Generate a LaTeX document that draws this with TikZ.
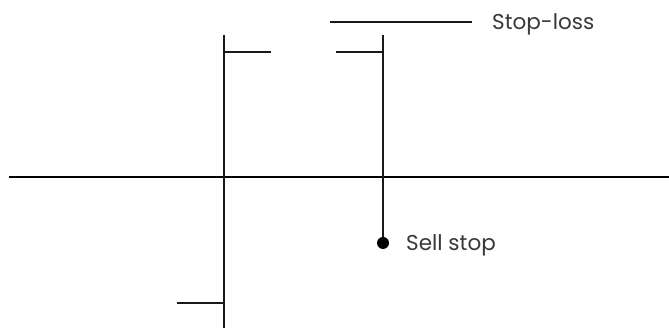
\documentclass[tikz,border=0pt]{standalone}
\usepackage{fontspec}
\setmainfont{Poppins}
\usetikzlibrary{calc}
\definecolor{LineClr}{rgb}{0.1,0.1,0.1}
\definecolor{TextClr}{rgb}{0.22,0.22,0.22}

\begin{document}
\begin{tikzpicture}[x=1pt,y=1pt,
  bar/.style={line width=1.6pt,color=LineClr},
  axis/.style={line width=2.6pt,color=black},
  lbl/.style={font=\fontsize{21.5}{24}\selectfont,color=TextClr,anchor=base west,inner sep=0pt}]
\useasboundingbox (0,0) rectangle (669,328);

% price axis
\coordinate (AxL) at (9,151);
\coordinate (AxR) at (669,151);

% first bar
\coordinate (B1top) at (224,293);
\coordinate (B1bot) at (224,0);
\coordinate (B1open) at (177,25);
\coordinate (B1close) at (271,276);

% second bar
\coordinate (B2top) at (383,293);
\coordinate (B2open) at (336,276);
\coordinate (Sell) at (383,85);

% stop-loss level
\coordinate (SLl) at (330,306);
\coordinate (SLr) at (472,306);

\draw[axis] (AxL) -- (AxR);

\draw[bar] (B1top) -- (B1bot);
\draw[bar] (B1open) -- (B1open -| B1top);
\draw[bar] (B1close -| B1top) -- (B1close);

\draw[bar] (B2top) -- (Sell);
\draw[bar] (B2open) -- (B2open -| B2top);
\fill[black] (Sell) circle (6);

\draw[bar] (SLl) -- (SLr);

\node[lbl] (slbl) at ($(SLr)+(20,-7.5)$) {Stop-loss};
\node[lbl] (sslbl) at ($(Sell)+(23,-7.5)$) {Sell stop};

\end{tikzpicture}
\end{document}
